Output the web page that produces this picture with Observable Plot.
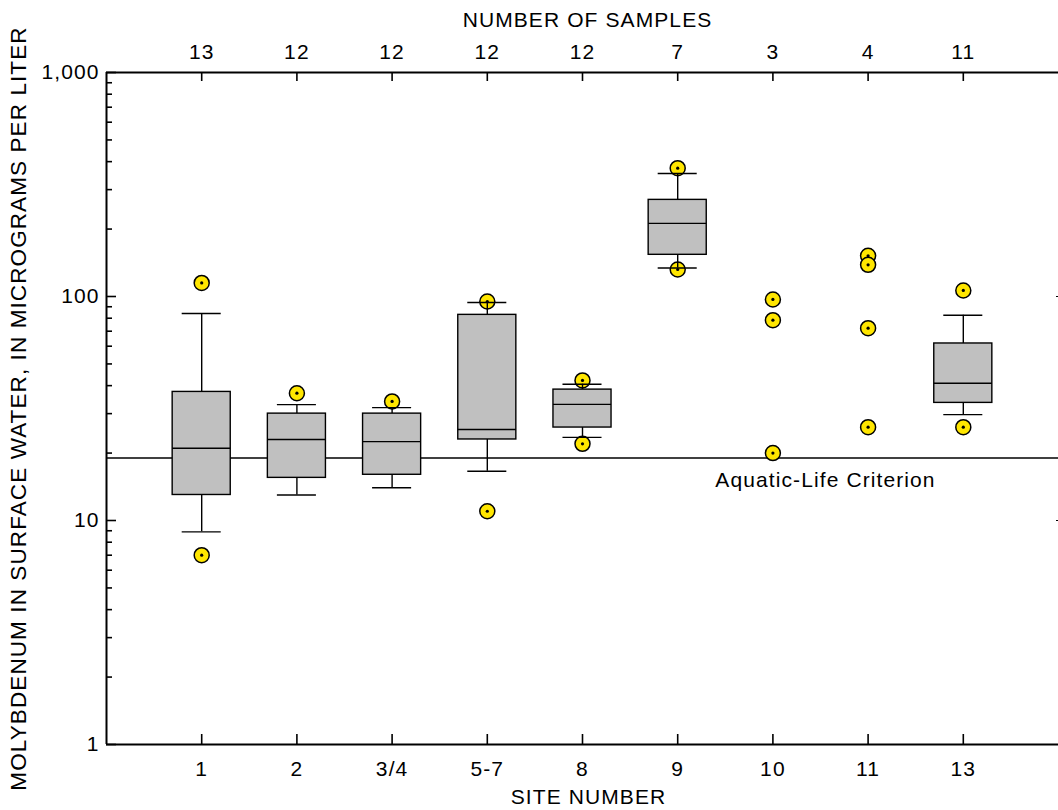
<!DOCTYPE html>
<html><head><meta charset="utf-8">
<script src="https://cdn.jsdelivr.net/npm/d3@7"></script>
<script src="https://cdn.jsdelivr.net/npm/@observablehq/plot@0.6"></script>
<style>body{margin:0;background:#fff} #chart{width:1058px;height:810px}</style>
</head><body><div id="chart"></div>
<script>
// ---- data ----
const sites = ["1", "2", "3/4", "5-7", "8", "9", "10", "11", "13"];
const sampleCounts = [13, 12, 12, 12, 12, 7, 3, 4, 11];
const lowerWhisker = [8.9, 13, 14, 16.6, 23.5, 134, null, null, 29.7];
const q1 = [13, 15.5, 16, 23, 26, 153.5, null, null, 33.5];
const median = [21, 23, 22.5, 25.5, 33, 212, null, null, 41];
const q3 = [37.5, 30, 30, 82.8, 38.4, 270, null, null, 61.7];
const upperWhisker = [84, 32.9, 31.9, 94, 40.6, 354, null, null, 82.5];
const outlierSite = ["1", "1", "2", "3/4", "5-7", "5-7", "8", "8", "9", "9",
  "10", "10", "10", "11", "11", "11", "11", "13", "13"];
const outlierValue = [115, 7.0, 37, 34, 95, 11, 42.2, 22, 374, 132,
  97, 78.4, 20, 152, 138.5, 72.2, 26.1, 106.4, 26.1];
const criterionValue = 19;
const criterionText = "Aquatic-Life Criterion";
const yMajorTicks = [1, 10, 100, 1000];
const yMinorTicks = [2,3,4,5,6,7,8,9,20,30,40,50,60,70,80,90,200,300,400,500,600,700,800,900];

// ---- derived tables ----
const siteIdx = sites.map((s, i) => i + 1);
const boxes = sites.map((s, i) => ({
  x: i + 1, lo: lowerWhisker[i], q1: q1[i], med: median[i], q3: q3[i], hi: upperWhisker[i]
})).filter(d => d.q1 != null);
const outliers = outlierSite.map((s, i) => ({ x: sites.indexOf(s) + 1, y: outlierValue[i] }));

const BW = 0.305; // box half-width (x units)
const CW = 0.205; // cap half-width
const SW = 1.4;
const yellow = "#FFE600";

const chart = Plot.plot({
  width: 1058, height: 810,
  marginLeft: 106, marginRight: 0, marginTop: 72, marginBottom: 66,
  style: { fontFamily: "'Liberation Sans', Arial, Helvetica, sans-serif", fontSize: "21px", letterSpacing: "1.1px", background: "#fff", overflow: "visible", color: "black" },
  x: { type: "linear", domain: [0, 10] },
  y: { type: "log", domain: [1, 1000] },
  marks: [
    // criterion line
    Plot.ruleY([criterionValue], { stroke: "black", strokeWidth: 1.6 }),
    Plot.text([criterionText], {
      x: (sites.indexOf("10") + sites.indexOf("11")) / 2 + 1, y: [criterionValue],
      text: d => d, dy: 22, dx: 5, textAnchor: "middle", fill: "black"
    }),
    // outliers (under whiskers)
    Plot.dot(outliers, { x: "x", y: "y", r: 7.5, fill: yellow, stroke: "black", strokeWidth: 1.5 }),
    Plot.dot(outliers, { x: "x", y: "y", r: 1.6, fill: "black" }),
    // whiskers
    Plot.ruleX(boxes, { x: "x", y1: "q3", y2: "hi", stroke: "black", strokeWidth: SW }),
    Plot.ruleX(boxes, { x: "x", y1: "lo", y2: "q1", stroke: "black", strokeWidth: SW }),
    Plot.ruleY(boxes, { y: "hi", x1: d => d.x - CW, x2: d => d.x + CW, stroke: "black", strokeWidth: SW }),
    Plot.ruleY(boxes, { y: "lo", x1: d => d.x - CW, x2: d => d.x + CW, stroke: "black", strokeWidth: SW }),
    // boxes
    Plot.rect(boxes, { x1: d => d.x - BW, x2: d => d.x + BW, y1: "q1", y2: "q3", fill: "#C0C0C0", stroke: "black", strokeWidth: SW }),
    Plot.ruleY(boxes, { y: "med", x1: d => d.x - BW, x2: d => d.x + BW, stroke: "black", strokeWidth: SW }),
    // axis lines
    Plot.ruleX([0], { stroke: "black", strokeWidth: 2 }),
    Plot.ruleY([1], { stroke: "black", strokeWidth: 2 }),
    Plot.ruleY([1000], { stroke: "black", strokeWidth: 2 }),
    // y axis
    Plot.axisY({ anchor: "left", ticks: yMajorTicks, tickSize: -10, tickPadding: 17, tickFormat: d3.format(","), label: null, strokeWidth: 1.6 }),
    Plot.axisY({ anchor: "left", ticks: yMinorTicks, tickSize: -6, tickFormat: () => "", label: null, strokeWidth: 1.6 }),
    Plot.axisY({ anchor: "right", ticks: [10, 100], tickSize: -3, tickFormat: () => "", label: null, strokeWidth: 1.2 }),
    // bottom axis: sites
    Plot.axisX({ anchor: "bottom", ticks: siteIdx, tickSize: -10, tickPadding: 27, tickFormat: i => sites[i - 1], label: null, strokeWidth: 1.6 }),
    // top axis: sample counts
    Plot.axisX({ anchor: "top", ticks: siteIdx, tickSize: -8, tickPadding: 22, tickFormat: i => sampleCounts[i - 1], label: null, strokeWidth: 1.6 }),
    // titles
    Plot.text(["NUMBER OF SAMPLES"], { frameAnchor: "top", dy: -52, dx: 5, lineAnchor: "middle", text: d => d, fill: "black" }),
    Plot.text(["SITE NUMBER"], { frameAnchor: "bottom", dy: 53, dx: 6, lineAnchor: "middle", text: d => d, fill: "black" }),
    Plot.text(["MOLYBDENUM IN SURFACE WATER, IN MICROGRAMS PER LITER"], { frameAnchor: "left", dx: -88, rotate: -90, textAnchor: "middle", lineAnchor: "middle", text: d => d, fontSize: 22.5, fill: "black" })
  ]
});
document.getElementById("chart").appendChild(chart);
</script>
</body></html>
